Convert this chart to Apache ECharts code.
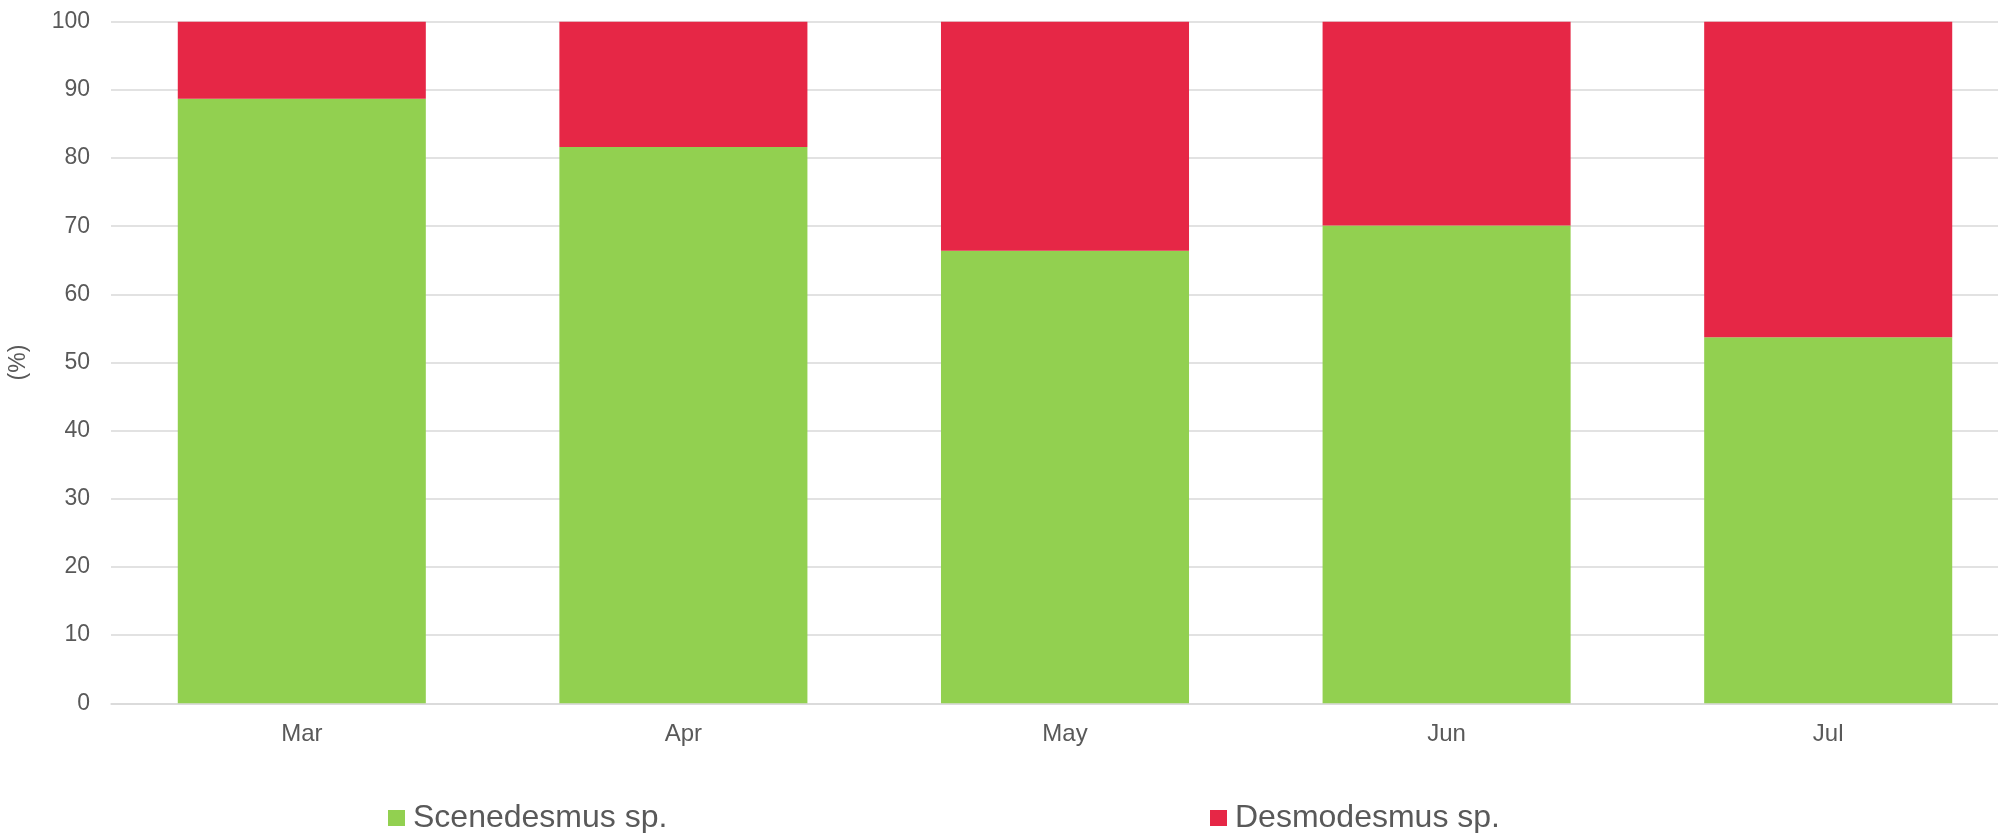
<!DOCTYPE html>
<html>
<head>
<meta charset="utf-8">
<style>
  html, body { margin: 0; padding: 0; background: #ffffff; overflow: hidden; }
  /* the plot runs a little past the right edge of the window */
  #chart { width: 2019px; height: 833px; }
</style>
<script src="https://cdn.jsdelivr.net/npm/echarts@6/dist/echarts.min.js"></script>
</head>
<body>
<div id="chart"></div>
<script>
// Monthly relative abundance of the two green algae (%)
const months = ['Mar', 'Apr', 'May', 'Jun', 'Jul'];
const scenedesmus = [88.7, 81.6, 66.4, 70.1, 53.7];
const desmodesmus = [11.3, 18.4, 33.6, 29.9, 46.3];
const seriesNames = ['Scenedesmus sp.', 'Desmodesmus sp.'];
const seriesColors = ['#92D050', '#E62746'];

const textColor = '#595959';
const gridColor = '#D9D9D9';
const fontFamily = '"Liberation Sans", Arial, sans-serif';

const chart = echarts.init(document.getElementById('chart'), null, { renderer: 'canvas' });

function legendFor(name, left) {
  return {
    data: [name],
    left: left,
    top: 797,
    orient: 'horizontal',
    itemWidth: 17,
    itemHeight: 16,
    icon: 'rect',
    selectedMode: false,
    textStyle: { fontFamily: fontFamily, fontSize: 32, color: textColor, padding: [0, 0, 0, 3] }
  };
}

chart.setOption({
  backgroundColor: '#ffffff',
  animation: false,
  grid: { left: 111, right: 0, top: 21.7, bottom: 129.7, containLabel: false, outerBoundsMode: 'none' },
  legend: [
    legendFor(seriesNames[0], 383),
    legendFor(seriesNames[1], 1205)
  ],
  xAxis: {
    type: 'category',
    data: months,
    axisLine: { show: true, lineStyle: { color: gridColor, width: 1.5 } },
    axisTick: { show: false },
    axisLabel: { color: textColor, fontFamily: fontFamily, fontSize: 24, margin: 19 }
  },
  yAxis: {
    type: 'value',
    min: 0,
    max: 100,
    interval: 10,
    name: '(%)',
    nameLocation: 'middle',
    nameGap: 81,
    nameRotate: 90,
    nameTextStyle: { color: textColor, fontFamily: fontFamily, fontSize: 23 },
    axisLine: { show: false },
    axisTick: { show: false },
    axisLabel: { color: textColor, fontFamily: fontFamily, fontSize: 23, margin: 21 },
    splitLine: { show: true, lineStyle: { color: gridColor, width: 1.5 } }
  },
  series: [
    {
      name: seriesNames[0],
      type: 'bar',
      stack: 'total',
      data: scenedesmus,
      barCategoryGap: '35%',
      itemStyle: { color: seriesColors[0] }
    },
    {
      name: seriesNames[1],
      type: 'bar',
      stack: 'total',
      data: desmodesmus,
      barCategoryGap: '35%',
      itemStyle: { color: seriesColors[1] }
    }
  ]
});
</script>
</body>
</html>
